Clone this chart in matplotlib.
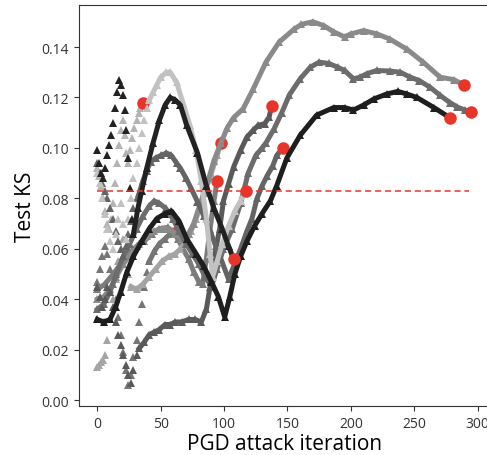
import matplotlib
matplotlib.use("Agg")
import matplotlib.pyplot as plt

plt.rcParams['font.family'] = ['Open Sans', 'DejaVu Sans']

# ---- data (PGD iteration, test KS) ----
# early iterations jump around a lot -> drawn as loose markers ("sparse")
# later iterations move slowly -> drawn as a continuous chain ("dense")

# top curve, ends at ~289
top_x = [0, 5, 10, 15, 20.5, 26.5, 33, 39, 45, 51, 56, 61.5, 66.5, 72, 76, 80, 84, 88, 92, 97.5,
         102.5, 107.5, 115, 123, 133, 143.5, 155, 161, 170, 178.5, 186.5, 195, 200, 210, 220.5,
         230.5, 244, 257, 270.5, 281, 289]
top_y = [0.040, 0.041, 0.044, 0.049, 0.054, 0.058, 0.062, 0.065, 0.067, 0.068, 0.068, 0.066, 0.064,
         0.066, 0.070, 0.076, 0.082, 0.088, 0.095, 0.102, 0.108, 0.112, 0.1155, 0.1234, 0.134, 0.142,
         0.147, 0.149, 0.150, 0.1485, 0.146, 0.144, 0.1452, 0.1465, 0.1452, 0.1432, 0.1392, 0.134,
         0.128, 0.1271, 0.125]

# middle long curve, ends at ~295
mid_x = [0, 5, 10, 15, 20.5, 25.5, 31, 36, 41, 45, 49, 54, 59.5, 64.5, 70, 75, 80, 85, 90, 94.5,
         99.5, 106.5, 113, 119, 125, 130, 133, 139.5, 145.5, 151.5, 160, 168, 175, 182.5, 189.5,
         195, 202, 207, 213, 220.5, 230.5, 239, 247, 254, 262.5, 270.5, 278, 284, 290, 295]
mid_y = [0.036, 0.038, 0.043, 0.050, 0.057, 0.062, 0.068, 0.073, 0.077, 0.079, 0.078, 0.076, 0.072,
         0.067, 0.062, 0.058, 0.054, 0.049, 0.045, 0.052, 0.060, 0.068, 0.078, 0.090, 0.097, 0.100,
         0.102, 0.1076, 0.114, 0.121, 0.1274, 0.132, 0.134, 0.1335, 0.132, 0.1307, 0.1274, 0.128,
         0.1295, 0.1307, 0.1305, 0.130, 0.128, 0.1267, 0.124, 0.1208, 0.118, 0.1162, 0.115, 0.1144]

# black long curve, ends at ~278
blk_x = [0, 5, 10, 14.5, 18.5, 23.5, 28.5, 35, 41, 47, 53.5, 58.5, 64.5, 70.5, 78, 84, 90, 95.5,
         100.5, 104.5, 108.5, 113, 118, 124, 130, 136.5, 141.5, 149.5, 160, 173, 186.5, 195, 202,
         210, 218.5, 228.5, 237, 244, 252, 265.5, 278]
blk_y = [0.032, 0.031, 0.032, 0.037, 0.043, 0.051, 0.057, 0.063, 0.068, 0.072, 0.074, 0.075, 0.071,
         0.064, 0.058, 0.053, 0.047, 0.041, 0.033, 0.041, 0.050, 0.057, 0.063, 0.069, 0.074, 0.079,
         0.085, 0.096, 0.105, 0.113, 0.116, 0.116, 0.115, 0.117, 0.1195, 0.1214, 0.1224, 0.1214,
         0.120, 0.116, 0.112]

# black curve with the high hump, ends at ~107
hump_sx = [0, 1.5, 3, 4.5, 6, 7.5, 9, 11, 12.5, 14, 15.5, 17, 18.5, 20, 21.5, 23, 24.5, 26, 27.5]
hump_sy = [0.099, 0.094, 0.090, 0.088, 0.092, 0.097, 0.101, 0.105, 0.110, 0.116, 0.122, 0.127,
           0.125, 0.121, 0.115, 0.107, 0.096, 0.084, 0.072]
hump_x = [28.5, 32, 35, 39, 44, 49, 53.5, 57.5, 61.5, 65.5, 70.5, 79, 86, 92, 98.5, 103.5, 107.5]
hump_y = [0.066, 0.076, 0.083, 0.092, 0.102, 0.111, 0.117, 0.120, 0.119, 0.117, 0.109, 0.098,
          0.085, 0.076, 0.068, 0.061, 0.056]

# light curve with the highest hump, ends at ~117
light_sx = [0, 2, 4, 6, 8, 10, 12.5, 14.5, 16.5, 18.5, 20.5, 22.5, 24.5, 26.5, 28.5, 31, 33, 35,
            37, 39]
light_sy = [0.090, 0.086, 0.080, 0.074, 0.068, 0.063, 0.060, 0.066, 0.072, 0.078, 0.070, 0.064,
            0.072, 0.080, 0.088, 0.094, 0.100, 0.106, 0.111, 0.116]
light_x = [41, 44, 47, 50, 54.5, 57.5, 62.5, 67.5, 73, 78, 82, 86, 89, 91, 94.5, 98.5, 103.5,
           108.5, 113, 117]
light_y = [0.119, 0.122, 0.125, 0.128, 0.130, 0.130, 0.126, 0.118, 0.109, 0.099, 0.087, 0.072,
           0.058, 0.049, 0.055, 0.062, 0.069, 0.075, 0.079, 0.083]

# low curve that climbs late, ends at ~138
low_sx = [0, 2, 4, 6, 8, 10, 12.5, 14.5, 16.5, 18.5, 20.5, 22.5, 24.5, 26.5, 28.5, 31]
low_sy = [0.045, 0.041, 0.037, 0.040, 0.045, 0.043, 0.037, 0.031, 0.026, 0.022, 0.018, 0.014,
          0.010, 0.007, 0.012, 0.018]
low_x = [33, 37, 41, 45, 49, 53.5, 57.5, 61.5, 66.5, 72, 77, 82, 86, 89, 92, 96.5, 99.5, 103.5,
         107.5, 113, 118, 123, 127, 132, 135.5, 137.5]
low_y = [0.0205, 0.023, 0.026, 0.027, 0.028, 0.030, 0.030, 0.031, 0.031, 0.032, 0.032, 0.031,
         0.036, 0.045, 0.056, 0.068, 0.079, 0.0858, 0.0924, 0.099, 0.1043, 0.107, 0.109, 0.1096,
         0.1122, 0.1166]

# gray hump curve, ends at ~146
gh_sx = [0, 2, 4, 6, 8, 10, 12.5, 14.5, 16.5, 18.5, 20.5, 22.5, 24.5, 26.5, 28.5, 31]
gh_sy = [0.094, 0.090, 0.086, 0.083, 0.080, 0.076, 0.072, 0.067, 0.063, 0.060, 0.057, 0.061,
         0.066, 0.071, 0.076, 0.080]
gh_x = [33, 36, 39, 42, 46, 50, 54.5, 58.5, 62.5, 65.5, 70, 74, 79, 84, 89, 93.5, 97.5, 103.5,
        107.5, 113, 118, 122, 126, 130, 134, 138.5, 141.5, 146.5]
gh_y = [0.082, 0.087, 0.091, 0.0945, 0.096, 0.097, 0.098, 0.097, 0.094, 0.092, 0.088, 0.084,
        0.0787, 0.073, 0.067, 0.061, 0.056, 0.048, 0.053, 0.060, 0.067, 0.072, 0.080, 0.085,
        0.089, 0.093, 0.097, 0.100]

# short curve, ends at ~94
c_x = [0, 6, 12.5, 18.5, 24.5, 31, 37, 43, 49, 55.5, 59.5, 63.5, 67.5, 72, 76, 80, 83, 86, 89, 92,
       94.5]
c_y = [0.044, 0.046, 0.050, 0.054, 0.058, 0.061, 0.063, 0.066, 0.068, 0.0685, 0.067, 0.064,
       0.060, 0.056, 0.051, 0.047, 0.046, 0.056, 0.068, 0.079, 0.087]

# short curve, ends at ~97
b_sx = [0, 1.5, 3, 4.5, 6, 8, 10, 12.5, 14.5, 16.5, 18.5, 20.5, 22.5, 24.5]
b_sy = [0.013, 0.014, 0.015, 0.016, 0.018, 0.024, 0.032, 0.040, 0.048, 0.055, 0.060, 0.064,
        0.058, 0.050]
b_x = [26.5, 31, 36, 41, 46, 51, 56.5, 61.5, 65.5, 70, 74, 78, 82, 86, 90, 94.5, 97.5]
b_y = [0.045, 0.044, 0.046, 0.049, 0.052, 0.055, 0.057, 0.058, 0.060, 0.063, 0.067, 0.072, 0.078,
       0.084, 0.090, 0.097, 0.102]

# curve stopped after ~35 iterations
a_sx = [0, 1.5, 3, 4.5, 6, 7.5, 9, 11, 12.5, 14, 15.5, 17, 18.5, 20, 21.5, 23, 24.5, 26, 27.5,
        29, 31, 32.5, 34, 36]
a_sy = [0.092, 0.089, 0.085, 0.080, 0.075, 0.070, 0.068, 0.072, 0.078, 0.086, 0.094, 0.101,
        0.107, 0.111, 0.105, 0.098, 0.094, 0.099, 0.104, 0.108, 0.111, 0.114, 0.116, 0.118]

# curve stopped after ~63 iterations
f_sx = [0, 2, 4, 6, 8, 10, 12.5, 14.5, 16.5, 18.5, 20.5, 22.5, 24.5, 26.5, 28.5, 31, 33, 35, 37, 39]
f_sy = [0.047, 0.052, 0.057, 0.061, 0.058, 0.052, 0.046, 0.040, 0.033, 0.026, 0.019, 0.012,
        0.006, 0.010, 0.017, 0.024, 0.031, 0.038, 0.045, 0.051]
f_x = [41, 45, 49, 53.5, 57.5, 60.5, 63.5]
f_y = [0.055, 0.059, 0.062, 0.064, 0.066, 0.067, 0.067]

ks_threshold = 0.083
threshold_end = 293

# (sparse x, sparse y, dense x, dense y, colour) in drawing order
series = [
    (f_sx, f_sy, f_x, f_y, '#767676'),
    (a_sx, a_sy, [], [], '#b4b4b4'),
    ([], [], c_x, c_y, '#7c7c7c'),
    (b_sx, b_sy, b_x, b_y, '#a4a4a4'),
    ([], [], top_x, top_y, '#8a8a8a'),
    ([], [], mid_x, mid_y, '#6c6c6c'),
    (low_sx, low_sy, low_x, low_y, '#5a5a5a'),
    (gh_sx, gh_sy, gh_x, gh_y, '#646464'),
    (light_sx, light_sy, light_x, light_y, '#c2c2c2'),
    ([], [], blk_x, blk_y, '#1e1e1e'),
    (hump_sx, hump_sy, hump_x, hump_y, '#222222'),
]

fig = plt.figure(figsize=(4.87, 4.56), dpi=100)
ax = fig.add_axes([0.1614, 0.1075, 0.8448, 0.879])

for sx, sy, dx, dy, col in series:
    if sx:
        ax.plot(sx, sy, linestyle='none', marker='^', ms=6, mew=0, color=col)
    if dx:
        ax.plot(dx, dy, '-', lw=3.6, color=col, solid_joinstyle='round')
        ax.plot(dx, dy, linestyle='none', marker='^', ms=6, mew=0, color=col)
        ex, ey = dx[-1], dy[-1]
    else:
        ex, ey = sx[-1], sy[-1]
    ax.plot(ex, ey, 'o', ms=9, mew=0, color='#e8352a')

ax.plot([0, threshold_end], [ks_threshold, ks_threshold], '--', color='#e8352a', lw=1.1,
        dashes=(4, 2.5))

ax.set_xlim(-14.75, 309.75)
ax.set_ylim(-0.0023, 0.1566)
ax.set_xticks([0, 50, 100, 150, 200, 250, 300])
ax.set_yticks([0.00, 0.02, 0.04, 0.06, 0.08, 0.10, 0.12, 0.14])
ax.set_yticklabels(['0.00', '0.02', '0.04', '0.06', '0.08', '0.10', '0.12', '0.14'])
ax.tick_params(labelsize=10, colors='#333333')
for sp in ax.spines.values():
    sp.set_color('#333333')
ax.set_xlabel('PGD attack iteration', fontsize=15, labelpad=2)
ax.set_ylabel('Test KS', fontsize=15)

fig.savefig('out.png', dpi=100)
